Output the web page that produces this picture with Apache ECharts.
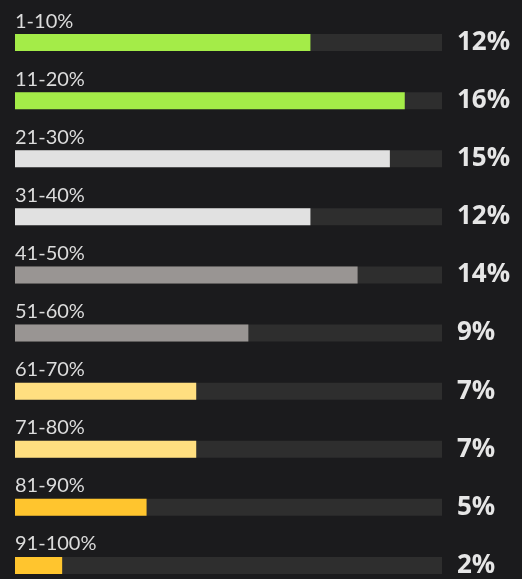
<!DOCTYPE html>
<html>
<head>
<meta charset="utf-8">
<script src="https://cdn.jsdelivr.net/npm/echarts@6/dist/echarts.min.js"></script>
<style>
html,body{margin:0;padding:0;background:#1b1b1d;}
#box{width:522px;height:579px;}
</style>
</head>
<body>
<div id="box"></div>
<script>
// 分段数据
var categories = ['1-10%','11-20%','21-30%','31-40%','41-50%','51-60%','61-70%','71-80%','81-90%','91-100%'];
var values = [11.9, 15.7, 15.1, 11.9, 13.8, 9.4, 7.3, 7.3, 5.3, 1.9];
var trackMax = 17.2;

// 颜色
var barColors = ['#a4ec48','#a4ec48','#e1e1e1','#e1e1e1','#999593','#999593','#ffdf80','#ffdf80','#ffc52e','#ffc52e'];

var trackData = [];
var valueLabels = [];
var barData = [];
for (var i = 0; i < categories.length; i++) {
	trackData.push(trackMax);
	valueLabels.push(Math.round(values[i]) + '%');
	barData.push({value: values[i], itemStyle: {color: barColors[i]}});
}

var myChart = echarts.init(document.getElementById('box'));
var option = {
	backgroundColor: '#1b1b1d',
	animation: false,
	grid: {left: 15, right: 80, top: 13.5, height: 581, outerBoundsMode: 'none', containLabel: false},
	xAxis: {type: 'value', min: 0, max: trackMax, show: false},
	yAxis: [
		{type: 'category', inverse: true, data: categories, show: false},
		{
			type: 'category', inverse: true, data: valueLabels, position: 'right',
			axisLine: {show: false}, axisTick: {show: false},
			axisLabel: {
				margin: 15, align: 'left', color: '#e6e6e6',
				fontFamily: 'Open Sans', fontWeight: 'bold', fontSize: 26,
				padding: [4, 0, 0, 0]
			}
		}
	],
	series: [
		{
			type: 'bar', barWidth: 17, data: trackData, silent: true,
			itemStyle: {color: '#2e2e2e'},
			label: {
				show: true, position: [0, -3], align: 'left', verticalAlign: 'bottom',
				color: '#dcdcdc', fontFamily: 'Lato', fontSize: 20,
				formatter: function (p) { return categories[p.dataIndex]; }
			}
		},
		{
			type: 'bar', barWidth: 17, barGap: '-100%', data: barData
		}
	]
};
myChart.setOption(option, true);
</script>
</body>
</html>
